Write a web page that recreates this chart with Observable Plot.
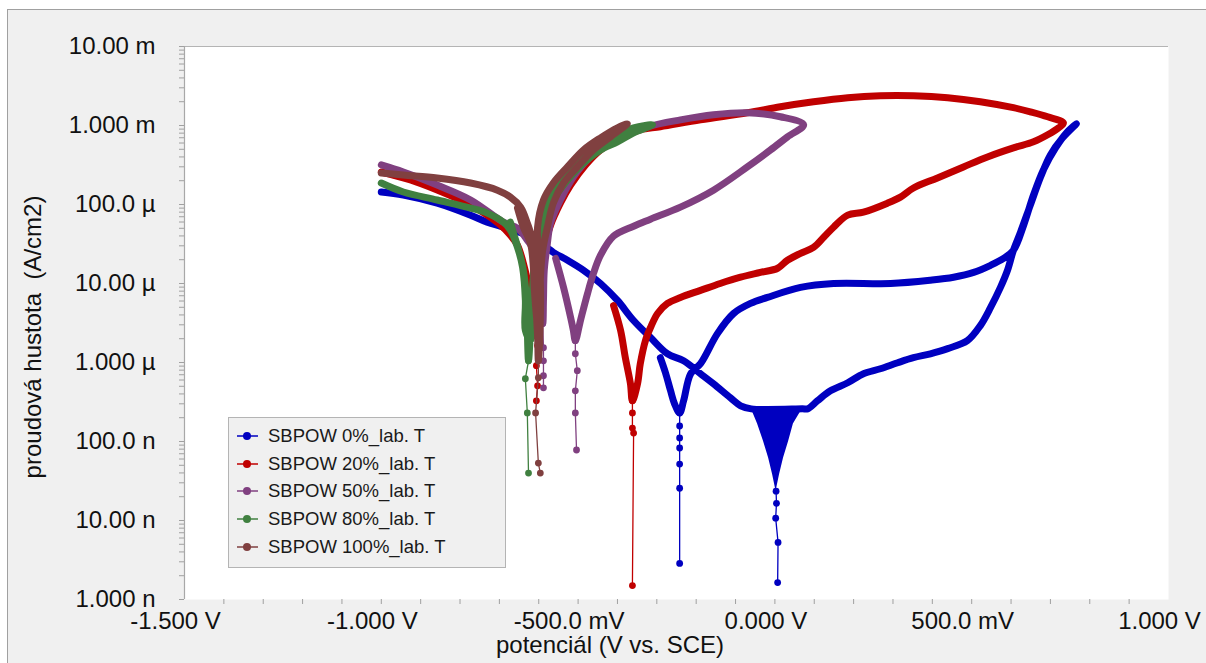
<!DOCTYPE html>
<html><head><meta charset="utf-8">
<script src="https://cdn.jsdelivr.net/npm/d3@7"></script>
<script src="https://cdn.jsdelivr.net/npm/@observablehq/plot@0.6"></script>
<style>
html,body{margin:0;padding:0;background:#fff;}
body{width:1206px;height:663px;overflow:hidden;position:relative;font-family:"Liberation Sans",Arial,sans-serif;color:#111;}
#panel{position:absolute;left:7px;top:9px;right:0;bottom:0;background:#f0f0f0;border-top:1px solid #a0a0a0;border-left:1px solid #a0a0a0;}
#chart{position:absolute;left:0;top:0;}
#ytitle{position:absolute;left:33px;top:337px;transform:translate(-50%,-50%) rotate(-90deg);white-space:pre;font-size:24px;}
#xtitle{position:absolute;left:610px;top:645px;transform:translate(-50%,-50%);white-space:pre;font-size:24px;}
#legend{position:absolute;left:228px;top:417px;width:278px;height:151px;box-sizing:border-box;border:1px solid #b4b4b4;background:#f0f0f0;}
.row{position:absolute;left:0;height:28px;width:100%;}
.row svg{position:absolute;left:7px;top:8px;}
.row span{position:absolute;left:39px;top:3px;font-size:18.5px;white-space:pre;color:#1a1a1a;}
</style></head>
<body>
<div id="panel"></div>
<div id="chart"></div>
<div id="ytitle">proudová hustota  (A/cm2)</div>
<div id="xtitle">potenciál (V vs. SCE)</div>
<div id="legend"></div>
<script>
// ---- labels ----
const seriesNames = ["SBPOW 0%_lab. T","SBPOW 20%_lab. T","SBPOW 50%_lab. T","SBPOW 80%_lab. T","SBPOW 100%_lab. T"];
const seriesColors = ["#0000c0","#c00000","#804080","#408040","#804040"];
const xTickValues = [-1.5,-1.0,-0.5,0,0.5,1.0];
const xTickLabels = ["-1.500 V","-1.000 V","-500.0 mV","0.000 V","500.0 mV","1.000 V"];
const yTickValues = [1e-9,1e-8,1e-7,1e-6,1e-5,1e-4,1e-3,1e-2];
const yTickLabels = ["1.000 n","10.00 n","100.0 n","1.000 µ","10.00 µ","100.0 µ","1.000 m","10.00 m"];

// ---- data: [potential V, current density A/cm2] ----
const blueCurve = [[-0.291,1.15e-6],[-0.278,7.42e-7],[-0.265,4.38e-7],[-0.255,3.0e-7],[-0.242,2.3e-7],[-0.232,3.27e-7],[-0.214,7.21e-7],[-0.189,9.65e-7],[-0.146,2.32e-6],[-0.105,4.17e-6],[-0.062,5.59e-6],[-0.019,6.66e-6],[0.065,8.92e-6],[0.149,1.0e-5],[0.294,1.0e-5],[0.395,1.1e-5],[0.454,1.2e-5],[0.505,1.38e-5],[0.548,1.7e-5],[0.581,2.08e-5],[0.606,2.63e-5],[0.632,5.47e-5],[0.657,1.32e-4],[0.682,2.74e-4],[0.713,5.21e-4],[0.741,8.08e-4],[0.766,1.05e-3],[0.731,6.98e-4],[0.700,4.24e-4],[0.675,2.23e-4],[0.649,9.83e-5],[0.624,4.46e-5],[0.606,2.63e-5],[0.591,1.47e-5],[0.573,8.92e-6],[0.548,4.97e-6],[0.522,2.93e-6],[0.489,1.89e-6],[0.439,1.5e-6],[0.395,1.29e-6],[0.352,1.15e-6],[0.312,9.94e-7],[0.268,8.34e-7],[0.225,7.21e-7],[0.185,5.54e-7],[0.141,4.38e-7],[0.108,3.27e-7],[0.083,2.59e-7],[0.070,2.59e-7],[-0.060,2.59e-7],[-0.087,2.83e-7],[-0.113,3.57e-7],[-0.156,5.38e-7],[-0.189,7.21e-7],[-0.232,1.05e-6],[-0.273,1.29e-6],[-0.316,2.07e-6],[-0.359,3.4e-6],[-0.400,6.1e-6],[-0.443,1.0e-5],[-0.486,1.47e-5],[-0.527,1.97e-5],[-0.563,2.48e-5],[-0.616,3.85e-5],[-0.690,5.16e-5],[-0.731,5.98e-5],[-0.773,7.33e-5],[-0.858,1.04e-4],[-0.944,1.32e-4],[-1.0,1.44e-4]];
const blueSpike1 = [[-0.242,2.3e-7],[-0.242,1.57e-7],[-0.242,1.11e-7],[-0.242,8.27e-8],[-0.242,5.18e-8],[-0.242,2.56e-8],[-0.242,2.86e-9]];
// noisy region near Ecorr: [potential, lower envelope, upper envelope]
const blueNoise = [[-0.060,2.59e-7,2.59e-7],[-0.044,1.67e-7,2.59e-7],[-0.029,1.01e-7,2.59e-7],[-0.016,6.17e-8,2.59e-7],[-0.006,3.86e-8,2.59e-7],[0.003,2.35e-8,2.59e-7],[0.012,3.86e-8,2.59e-7],[0.022,6.17e-8,2.59e-7],[0.035,1.01e-7,2.59e-7],[0.047,1.67e-7,2.59e-7],[0.070,2.59e-7,2.59e-7]];
const blueSpike2 = [[0.003,2.35e-8],[0.004,1.65e-8],[0.002,1.07e-8],[0.008,5.28e-9],[0.007,1.64e-9]];

const redCurve = [[-0.410,5.27e-6],[-0.392,2.54e-6],[-0.380,1.15e-6],[-0.367,5.38e-7],[-0.362,3.27e-7],[-0.349,5.38e-7],[-0.342,9.65e-7],[-0.329,1.89e-6],[-0.316,2.77e-6],[-0.298,4.17e-6],[-0.273,5.59e-6],[-0.240,6.66e-6],[-0.189,8.18e-6],[-0.139,1.0e-5],[-0.087,1.2e-5],[-0.037,1.38e-5],[0.007,1.56e-5],[0.032,1.97e-5],[0.065,2.41e-5],[0.098,2.87e-5],[0.124,3.85e-5],[0.149,5.16e-5],[0.185,7.33e-5],[0.225,8.0e-5],[0.286,1.04e-4],[0.319,1.24e-4],[0.352,1.62e-4],[0.413,2.17e-4],[0.479,2.99e-4],[0.540,4.0e-4],[0.606,5.21e-4],[0.657,6.21e-4],[0.693,7.62e-4],[0.721,9.35e-4],[0.733,1.08e-3],[0.693,1.29e-3],[0.649,1.49e-3],[0.606,1.68e-3],[0.522,2.0e-3],[0.439,2.25e-3],[0.352,2.38e-3],[0.268,2.38e-3],[0.185,2.25e-3],[0.098,2.0e-3],[0.014,1.73e-3],[-0.070,1.45e-3],[-0.189,1.18e-3],[-0.291,9.63e-4],[-0.342,8.82e-4],[-0.392,6.98e-4],[-0.443,4.91e-4],[-0.481,3.17e-4],[-0.519,1.76e-4],[-0.545,1.04e-4],[-0.570,5.47e-5],[-0.588,2.63e-5],[-0.601,1.1e-5],[-0.606,4.55e-6],[-0.606,2.19e-6],[-0.621,7.06e-6],[-0.639,1.8e-5],[-0.654,3.05e-5],[-0.672,4.08e-5],[-0.697,5.47e-5],[-0.731,7.33e-5],[-0.773,9.83e-5],[-0.858,1.52e-4],[-0.926,2.04e-4],[-1.0,2.58e-4]];
const redSpike1 = [[-0.362,3.27e-7],[-0.362,2.3e-7],[-0.362,1.48e-7],[-0.359,1.28e-7],[-0.362,1.5e-9]];
const redSpike2 = [[-0.606,2.19e-6],[-0.603,1.64e-6],[-0.606,9.11e-7],[-0.603,5.07e-7],[-0.606,3.27e-7]];

const purpleCurve = [[-0.557,2.08e-5],[-0.537,8.92e-6],[-0.519,3.71e-6],[-0.512,2.54e-6],[-0.507,1.89e-6],[-0.494,3.4e-6],[-0.476,7.48e-6],[-0.461,1.34e-5],[-0.443,2.28e-5],[-0.410,3.97e-5],[-0.359,5.31e-5],[-0.316,6.52e-5],[-0.240,9.27e-5],[-0.156,1.52e-4],[-0.070,2.99e-4],[-0.011,4.91e-4],[0.032,7.18e-4],[0.073,1.02e-3],[0.014,1.29e-3],[-0.070,1.45e-3],[-0.156,1.37e-3],[-0.240,1.18e-3],[-0.324,9.63e-4],[-0.410,6.58e-4],[-0.469,4.0e-4],[-0.512,2.23e-4],[-0.545,1.14e-4],[-0.570,5.8e-5],[-0.578,3.23e-5],[-0.586,1.47e-5],[-0.588,6.1e-6],[-0.590,3.11e-6],[-0.606,1.27e-5],[-0.613,2.63e-5],[-0.629,3.53e-5],[-0.654,5.01e-5],[-0.690,5.98e-5],[-0.773,1.14e-4],[-0.858,1.76e-4],[-0.944,2.58e-4],[-1.0,3.17e-4]];
const purpleSpike1 = [[-0.507,1.89e-6],[-0.507,1.29e-6],[-0.502,7.87e-7],[-0.507,4.38e-7],[-0.507,2.3e-7],[-0.504,7.8e-8]];
const purpleSpike2 = [[-0.590,3.11e-6],[-0.588,1.54e-6],[-0.588,1.05e-6],[-0.588,6.8e-7],[-0.588,4.78e-7]];

const greenCurve = [[-0.672,5.98e-5],[-0.664,4.33e-5],[-0.651,2.63e-5],[-0.639,1.47e-5],[-0.631,6.1e-6],[-0.629,2.54e-6],[-0.626,1.05e-6],[-0.621,2.54e-6],[-0.616,8.18e-6],[-0.611,1.97e-5],[-0.603,4.33e-5],[-0.588,8.49e-5],[-0.563,1.52e-4],[-0.527,2.74e-4],[-0.486,4.24e-4],[-0.443,6.03e-4],[-0.400,7.62e-4],[-0.359,9.35e-4],[-0.311,1.02e-3],[-0.359,8.08e-4],[-0.400,6.21e-4],[-0.443,4.91e-4],[-0.486,3.36e-4],[-0.527,2.04e-4],[-0.563,1.14e-4],[-0.583,5.8e-5],[-0.596,3.23e-5],[-0.603,1.6e-5],[-0.613,6.1e-6],[-0.621,1.89e-6],[-0.634,2.54e-6],[-0.634,6.1e-6],[-0.641,1.6e-5],[-0.654,2.87e-5],[-0.672,4.73e-5],[-0.690,5.98e-5],[-0.731,7.78e-5],[-0.773,9.0e-5],[-0.858,1.14e-4],[-0.944,1.44e-4],[-1.0,1.87e-4]];
const greenSpike = [[-0.626,1.05e-6],[-0.634,6.23e-7],[-0.629,2.3e-7],[-0.626,3.98e-8]];

const brownCurve = [[-0.654,9.0e-5],[-0.639,5.16e-5],[-0.621,3.23e-5],[-0.613,1.47e-5],[-0.608,6.1e-6],[-0.603,2.19e-6],[-0.601,1.05e-6],[-0.596,3.4e-6],[-0.596,1.1e-5],[-0.601,2.63e-5],[-0.603,5.16e-5],[-0.588,1.14e-4],[-0.563,1.87e-4],[-0.527,2.99e-4],[-0.486,4.91e-4],[-0.443,6.98e-4],[-0.400,9.35e-4],[-0.375,1.05e-3],[-0.418,7.18e-4],[-0.461,4.91e-4],[-0.502,2.99e-4],[-0.537,1.87e-4],[-0.563,1.04e-4],[-0.578,5.16e-5],[-0.590,2.63e-5],[-0.596,1.1e-5],[-0.598,3.4e-6],[-0.598,1.64e-6],[-0.611,8.18e-6],[-0.616,3.53e-5],[-0.629,5.8e-5],[-0.646,9.27e-5],[-0.672,1.24e-4],[-0.705,1.52e-4],[-0.773,1.87e-4],[-0.858,2.17e-4],[-0.944,2.36e-4],[-1.0,2.51e-4]];
const brownSpike = [[-0.601,1.05e-6],[-0.601,6.41e-7],[-0.608,2.3e-7],[-0.601,5.33e-8],[-0.596,3.98e-8]];

// ---- assembly ----
const curves = [blueCurve, redCurve, purpleCurve, greenCurve, brownCurve];
const spikes = [[blueSpike1, blueSpike2], [redSpike1, redSpike2], [purpleSpike1, purpleSpike2], [greenSpike], [brownSpike]];

const yMinor = [];
for (let e = -9; e < -2; e++) for (let m = 1; m <= 9; m++) yMinor.push(m * Math.pow(10, e));
yMinor.push(1e-2);
const xMinor = [];
for (let k = -14; k <= 9; k++) xMinor.push(k / 10);

const X = d => d[0], Y = d => d[1];
const marks = [
  Plot.frame({fill: "white", stroke: null}),
  Plot.ruleY([1e-2], {stroke: "#b4b4b4", strokeWidth: 1.2}),
  Plot.ruleX([-1.5], {stroke: "#a8a8a8", strokeWidth: 1.2}),
  Plot.axisY({ticks: yMinor, tickSize: 5, tickFormat: () => "", stroke: "#a0a0a0"}),
  Plot.axisY({ticks: yTickValues, tickSize: 0, tickPadding: 29, fontSize: 24, fill: "#111",
    tickFormat: d => yTickLabels[yTickValues.findIndex(v => Math.abs(Math.log10(v) - Math.log10(d)) < 1e-6)], label: null}),
  Plot.axisX({ticks: xMinor, tickSize: 5, tickFormat: () => "", stroke: "#a0a0a0"}),
  Plot.axisX({ticks: xTickValues, tickSize: 0, tickPadding: 12, dx: -9, fontSize: 24, fill: "#111",
    tickFormat: d => xTickLabels[xTickValues.findIndex(v => Math.abs(v - d) < 1e-9)], label: null})
];
curves.forEach((c, i) => {
  const col = seriesColors[i];
  if (i === 0) marks.push(Plot.areaY(blueNoise, {x: X, y1: d => d[1], y2: d => d[2], fill: col, curve: "linear"}));
  marks.push(Plot.line(c, {x: X, y: Y, stroke: col, strokeWidth: 7, strokeLinejoin: "round", strokeLinecap: "round", curve: "catmull-rom"}));
  spikes[i].forEach(s => {
    marks.push(Plot.line(s, {x: X, y: Y, stroke: col, strokeWidth: 1.3, curve: "linear"}));
    marks.push(Plot.dot(s, {x: X, y: Y, r: 3.4, fill: col, stroke: null}));
  });
});

const chart = Plot.plot({
  width: 1206, height: 663,
  marginLeft: 184, marginRight: 38, marginTop: 46, marginBottom: 64,
  style: {background: "transparent", fontFamily: "'Liberation Sans', Arial, sans-serif", fontSize: "24px", color: "#111"},
  x: {domain: [-1.5, 1.0], label: null},
  y: {type: "log", domain: [1e-9, 1e-2], label: null},
  marks
});
document.getElementById("chart").appendChild(chart);

// legend
const lg = document.getElementById("legend");
seriesNames.forEach((name, i) => {
  const row = document.createElement("div");
  row.className = "row";
  row.style.top = (4 + i * 27.7) + "px";
  row.innerHTML = `<svg width="24" height="12"><line x1="1" y1="6" x2="22" y2="6" stroke="${seriesColors[i]}" stroke-width="1.5"/><circle cx="11" cy="6" r="4" fill="${seriesColors[i]}"/></svg><span>${name}</span>`;
  lg.appendChild(row);
});
</script>
</body></html>
